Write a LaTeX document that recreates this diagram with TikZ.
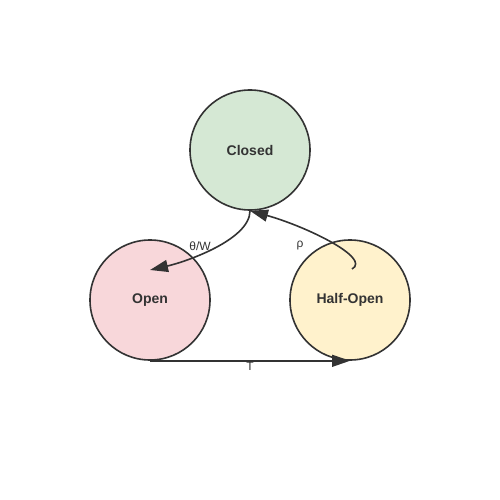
\documentclass[tikz,border=0pt]{standalone}
\usepackage{fontspec}
\setmainfont{Liberation Sans}
\usepackage{tikz}
\usetikzlibrary{arrows.meta}

\definecolor{edgegray}{HTML}{333333}
\definecolor{closedfill}{HTML}{D5E8D4}
\definecolor{openfill}{HTML}{F8D7DA}
\definecolor{halffill}{HTML}{FFF2CC}

\begin{document}
\begin{tikzpicture}[x=1pt, y=-1pt,
      state_node/.style ={circle, draw=edgegray, line width=1.6pt,
        minimum size=120pt, inner sep=0pt,
        font=\fontsize{14}{16}\selectfont\bfseries, text=edgegray},
      edge_label/.style ={font=\fontsize{12}{14}\selectfont, text=edgegray,
        inner sep=0pt},
      line/.style ={draw=edgegray, line width=1.6pt,
        -{Triangle[length=18pt,width=12pt]}}]
    %
    % 1. canvas and states
    \useasboundingbox (0,0) rectangle (500,500);
    \node [state_node, fill=closedfill] (closed) at (250,150) {Closed};
    \node [state_node, fill=openfill] (open) at (150,300) {Open};
    \node [state_node, fill=halffill] (halfopen) at (350,300) {Half-Open};
    %
    % 2. anchor points of the transitions
    \coordinate (open_in) at (150,270);
    \coordinate (half_out) at (352,269);
    %
    % 3. transitions
    \begin{scope}[every path/.style=line]
      \path (closed.south) .. controls (250,240) and (185,262) .. (open_in);
      \path (half_out) .. controls (372,258) and (305,226) .. (closed.south);
      \path (open.south) -- (halfopen.south);
    \end{scope}
    %
    % 4. labels
    \node [edge_label] (lbl_trip) at (200,246) {θ/W};
    \node [edge_label] (lbl_reset) at (300,246) {ρ};
    \node [edge_label] (lbl_timer) at (250,366) {T};
\end{tikzpicture}
\end{document}
